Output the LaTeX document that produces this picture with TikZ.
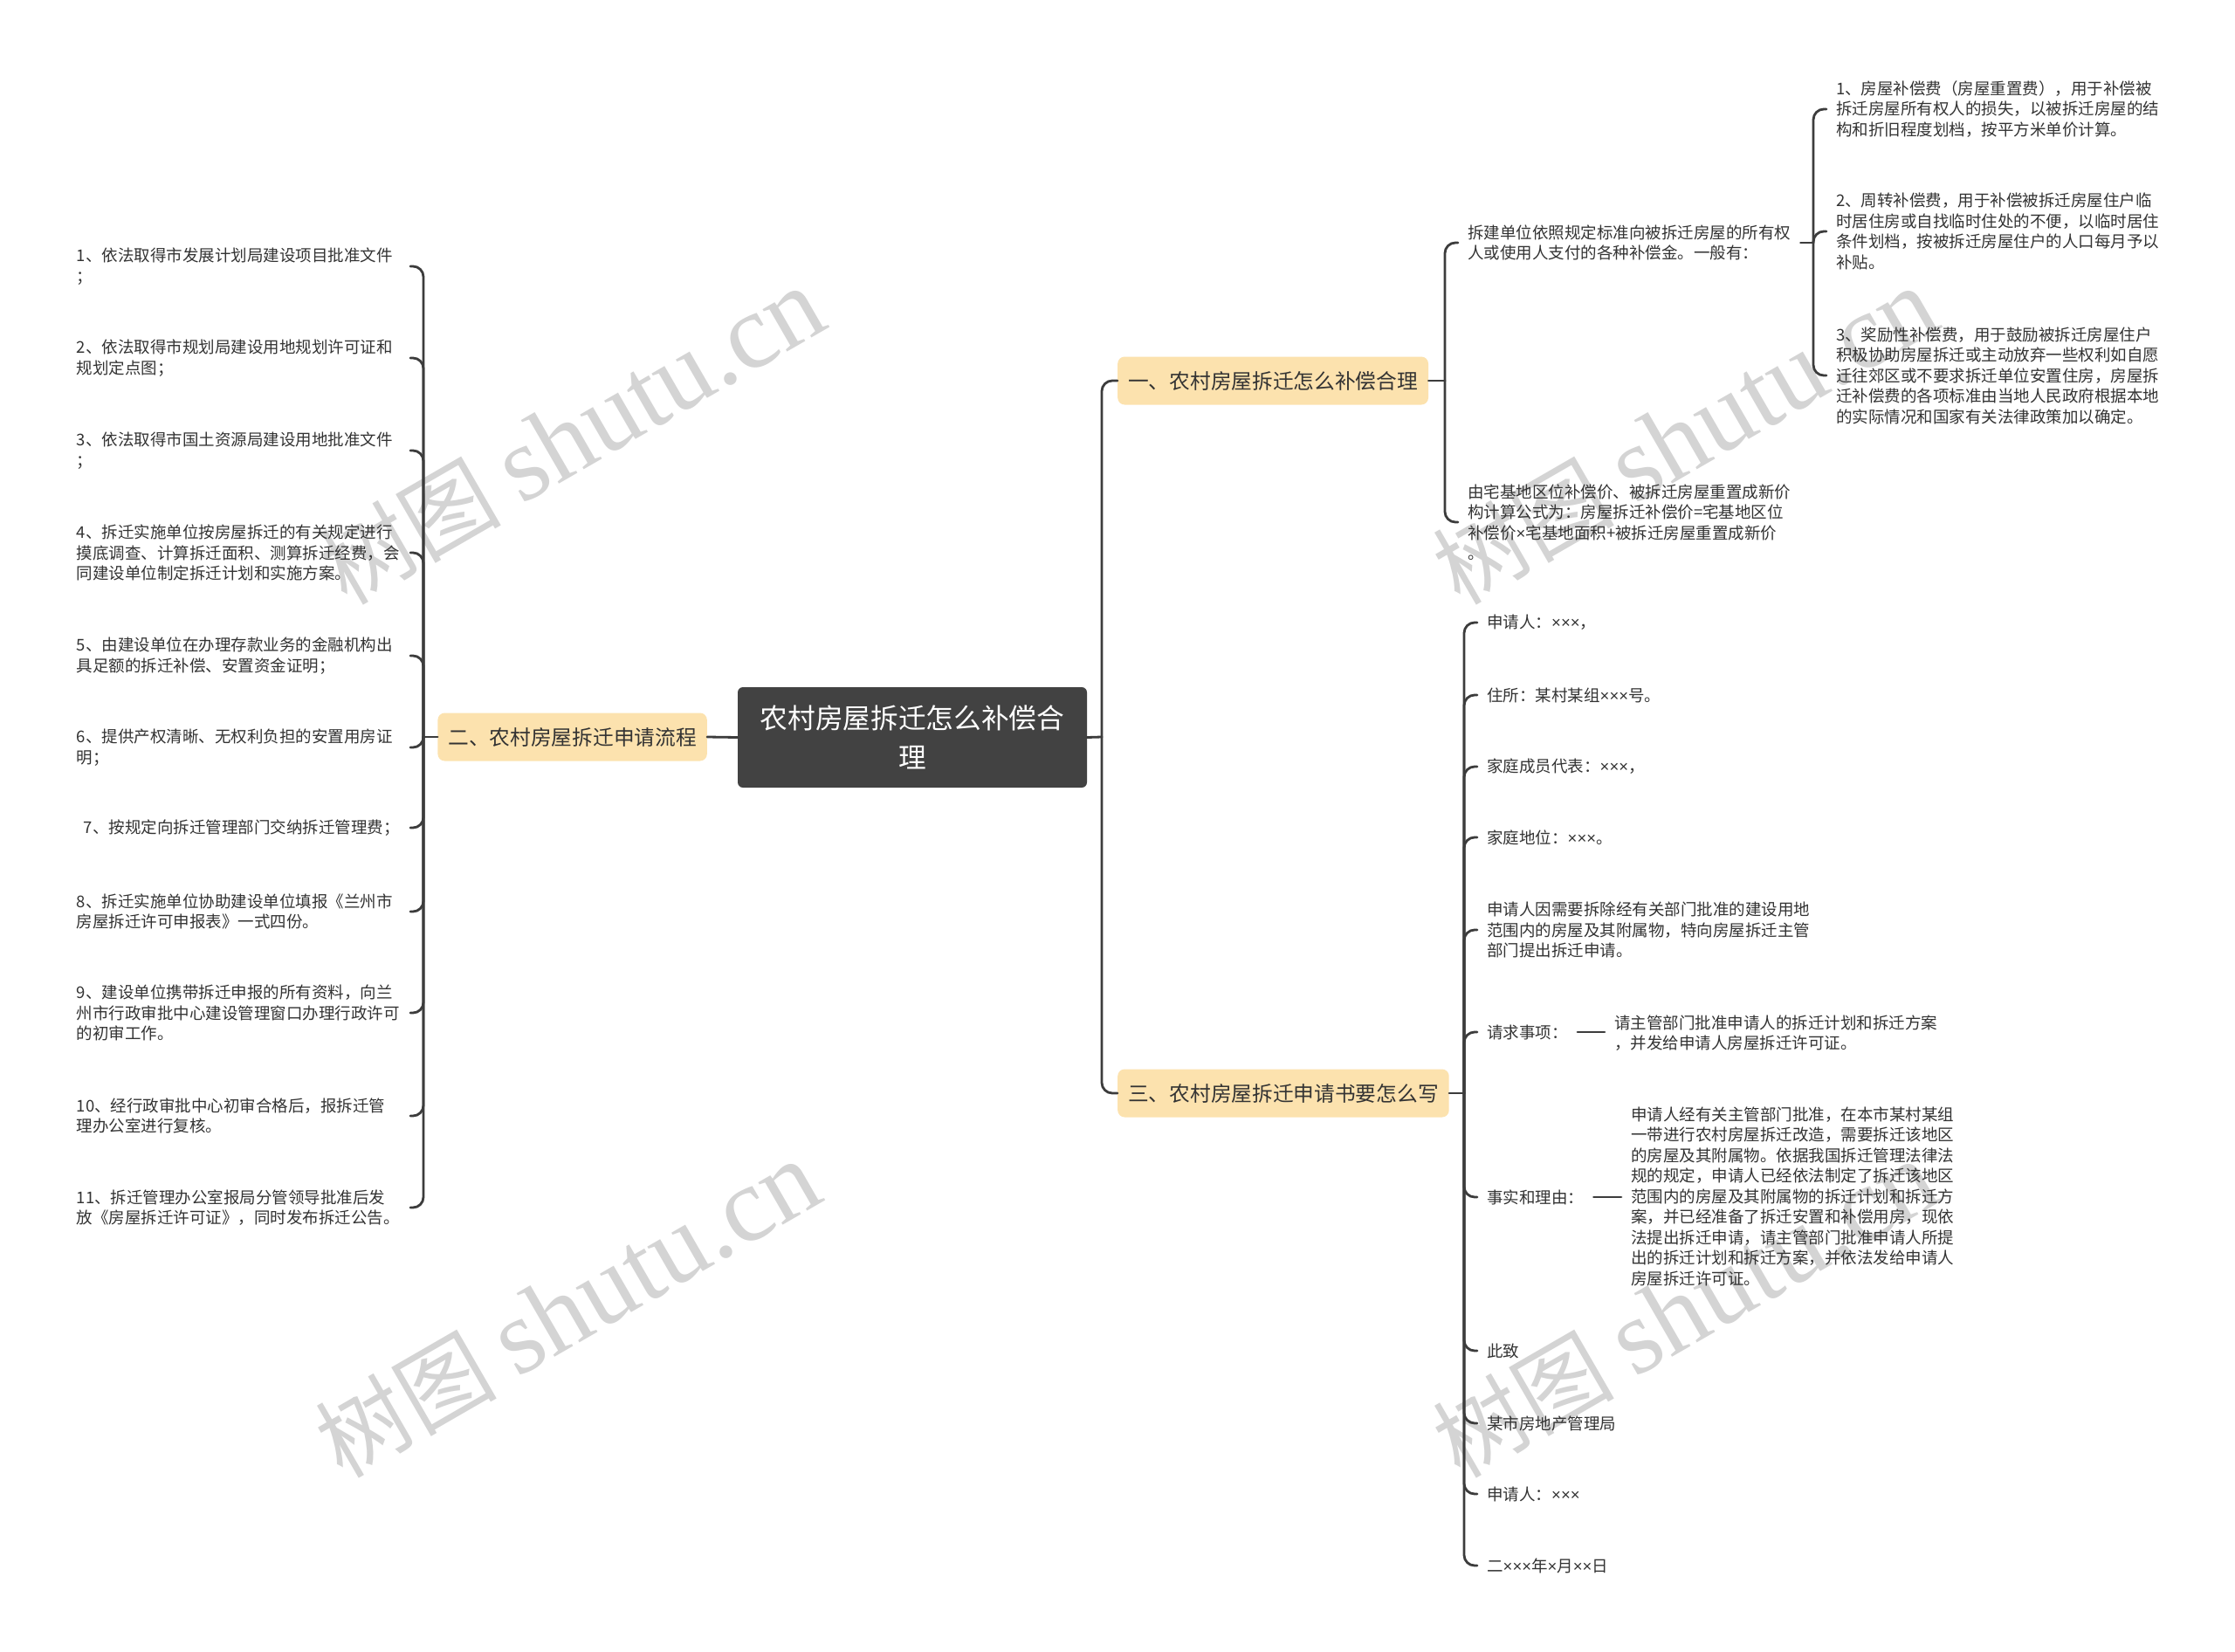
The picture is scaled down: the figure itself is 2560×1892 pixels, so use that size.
\documentclass[tikz,border=0pt]{standalone}
\usepackage{fontspec}
\setmainfont{Noto Sans CJK SC}
\newfontfamily\wmserif{Liberation Serif}
\newfontfamily\latinsans{Liberation Sans}
\newcommand\ttimes{{\latinsans\char"00D7}}
\definecolor{linegray}{HTML}{3C3C3C}
\definecolor{rootfill}{HTML}{424242}
\definecolor{boxfill}{HTML}{FCE2AE}
\definecolor{textgray}{HTML}{333333}
\definecolor{wmgray}{HTML}{D4D4D4}
\begin{document}
\begin{tikzpicture}[x=1pt, y=-1pt, line join=round, line cap=round,
	link/.style={draw=linegray, line width=2.8pt, rounded corners=12pt},
	leaf/.style={text=textgray, font=\fontsize{18.5}{23.5}\selectfont, align=left, inner xsep=11pt, inner ysep=2pt},
	lleaf/.style={leaf, anchor=east, inner xsep=3pt, text width=379pt},
	rleaf/.style={leaf, anchor=west},
	topic/.style={fill=boxfill, text=textgray, rounded corners=8pt, font=\fontsize{23.7}{28}\selectfont, inner xsep=12pt, minimum height=55pt},
	root/.style={fill=rootfill, text=white, rounded corners=6pt, font=\fontsize{31.7}{45}\selectfont, align=center, minimum width=400pt, minimum height=115pt},
	wmark/.style={text=wmgray, rotate=30, font=\fontsize{104}{104}\selectfont}]
	\fill[white] (0,0) rectangle (2560,1892);
	\useasboundingbox (0,0) rectangle (2560,1892);
	\foreach \wx/\wy [count=\k] in {655/500, 650/1500, 1930/500, 1930/1500}
	\node[wmark] (wm\k) at (\wx,\wy) {树图 {\wmserif\fontsize{122}{122}\selectfont shutu.cn}};
	\coordinate (jR) at (1262,844);
	\coordinate (jL) at (485,844);
	\coordinate (jB1) at (1655,436);
	\coordinate (jB3) at (1677,1252);
	\coordinate (jT) at (2077,278);
	\node[root] (root) at (1045,844.5) {农村房屋拆迁怎么补偿合\\理};
	\node[topic, anchor=west] (b1) at (1280,436) {一、农村房屋拆迁怎么补偿合理};
	\node[topic, anchor=east] (b2) at (810,844) {二、农村房屋拆迁申请流程};
	\node[topic, anchor=west] (b3) at (1280,1252) {三、农村房屋拆迁申请书要怎么写};
	\node[lleaf] (l1) at (470,305) {1、依法取得市发展计划局建设项目批准文件\\；};
	\node[lleaf] (l2) at (470,410) {2、依法取得市规划局建设用地规划许可证和\\规划定点图；};
	\node[lleaf] (l3) at (470,516) {3、依法取得市国土资源局建设用地批准文件\\；};
	\node[lleaf] (l4) at (470,633) {4、拆迁实施单位按房屋拆迁的有关规定进行\\摸底调查、计算拆迁面积、测算拆迁经费，会\\同建设单位制定拆迁计划和实施方案。};
	\node[lleaf] (l5) at (470,751) {5、由建设单位在办理存款业务的金融机构出\\具足额的拆迁补偿、安置资金证明；};
	\node[lleaf] (l6) at (470,856) {6、提供产权清晰、无权利负担的安置用房证\\明；};
	\node[lleaf] (l7) at (470,948) {\hspace*{8pt}7、按规定向拆迁管理部门交纳拆迁管理费；};
	\node[lleaf] (l8) at (470,1044) {8、拆迁实施单位协助建设单位填报《兰州市\\房屋拆迁许可申报表》一式四份。};
	\node[lleaf] (l9) at (470,1160) {9、建设单位携带拆迁申报的所有资料，向兰\\州市行政审批中心建设管理窗口办理行政许可\\的初审工作。};
	\node[lleaf] (l10) at (470,1278) {10、经行政审批中心初审合格后，报拆迁管\\理办公室进行复核。};
	\node[lleaf] (l11) at (470,1383) {11、拆迁管理办公室报局分管领导批准后发\\放《房屋拆迁许可证》，同时发布拆迁公告。};
	\node[rleaf] (s1) at (1670,278) {拆建单位依照规定标准向被拆迁房屋的所有权\\人或使用人支付的各种补偿金。一般有：};
	\node[rleaf] (s2) at (1670,598) {由宅基地区位补偿价、被拆迁房屋重置成新价\\构计算公式为：房屋拆迁补偿价=宅基地区位\\补偿价\ttimes 宅基地面积+被拆迁房屋重置成新价\\。};
	\node[rleaf] (t1) at (2092,125) {1、房屋补偿费（房屋重置费），用于补偿被\\拆迁房屋所有权人的损失，以被拆迁房屋的结\\构和折旧程度划档，按平方米单价计算。};
	\node[rleaf] (t2) at (2092,265) {2、周转补偿费，用于补偿被拆迁房屋住户临\\时居住房或自找临时住处的不便，以临时居住\\条件划档，按被拆迁房屋住户的人口每月予以\\补贴。};
	\node[rleaf] (t3) at (2092,430) {3、奖励性补偿费，用于鼓励被拆迁房屋住户\\积极协助房屋拆迁或主动放弃一些权利如自愿\\迁往郊区或不要求拆迁单位安置住房，房屋拆\\迁补偿费的各项标准由当地人民政府根据本地\\的实际情况和国家有关法律政策加以确定。};
	\node[rleaf] (r1) at (1692,713) {申请人：\ttimes\ttimes\ttimes ，};
	\node[rleaf] (r2) at (1692,796) {住所：某村某组\ttimes\ttimes\ttimes 号。};
	\node[rleaf] (r3) at (1692,878) {家庭成员代表：\ttimes\ttimes\ttimes ，};
	\node[rleaf] (r4) at (1692,959) {家庭地位：\ttimes\ttimes\ttimes 。};
	\node[rleaf] (r5) at (1692,1065) {申请人因需要拆除经有关部门批准的建设用地\\范围内的房屋及其附属物，特向房屋拆迁主管\\部门提出拆迁申请。};
	\node[rleaf] (r6) at (1692,1182) {请求事项：};
	\node[rleaf] (r7) at (1692,1371) {事实和理由：};
	\node[rleaf] (r8) at (1692,1547) {此致};
	\node[rleaf] (r9) at (1692,1630) {某市房地产管理局};
	\node[rleaf] (r10) at (1692,1711) {申请人：\ttimes\ttimes\ttimes};
	\node[rleaf] (r11) at (1692,1793) {二\ttimes\ttimes\ttimes 年\ttimes 月\ttimes\ttimes 日};
	\node[rleaf] (q1) at (1838,1183) {请主管部门批准申请人的拆迁计划和拆迁方案\\，并发给申请人房屋拆迁许可证。};
	\node[rleaf] (q2) at (1857,1370) {申请人经有关主管部门批准，在本市某村某组\\一带进行农村房屋拆迁改造，需要拆迁该地区\\的房屋及其附属物。依据我国拆迁管理法律法\\规的规定，申请人已经依法制定了拆迁该地区\\范围内的房屋及其附属物的拆迁计划和拆迁方\\案，并已经准备了拆迁安置和补偿用房，现依\\法提出拆迁申请，请主管部门批准申请人所提\\出的拆迁计划和拆迁方案，并依法发给申请人\\房屋拆迁许可证。};
	\draw[link] (root.east) -- (jR);
	\draw[link] (jR) |- (b1.west);
	\draw[link] (jR) |- (b3.west);
	\draw[link] (root.west) -- (b2.east);
	\draw[link] (b2.west) -- (jL);
	\foreach \i in {1,...,11}
	\draw[link] (jL) |- (l\i.east);
	\draw[link] (b1.east) -- (jB1);
	\draw[link] (jB1) |- (s1.west);
	\draw[link] (jB1) |- (s2.west);
	\draw[link] (s1.east) -- (jT);
	\foreach \i in {1,2,3}
	\draw[link] (jT) |- (t\i.west);
	\draw[link] (b3.east) -- (jB3);
	\foreach \i in {1,...,11}
	\draw[link] (jB3) |- (r\i.west);
	\draw[link] (r6.east) -- (q1.west |- r6.east);
	\draw[link] (r7.east) -- (q2.west |- r7.east);
\end{tikzpicture}
\end{document}
